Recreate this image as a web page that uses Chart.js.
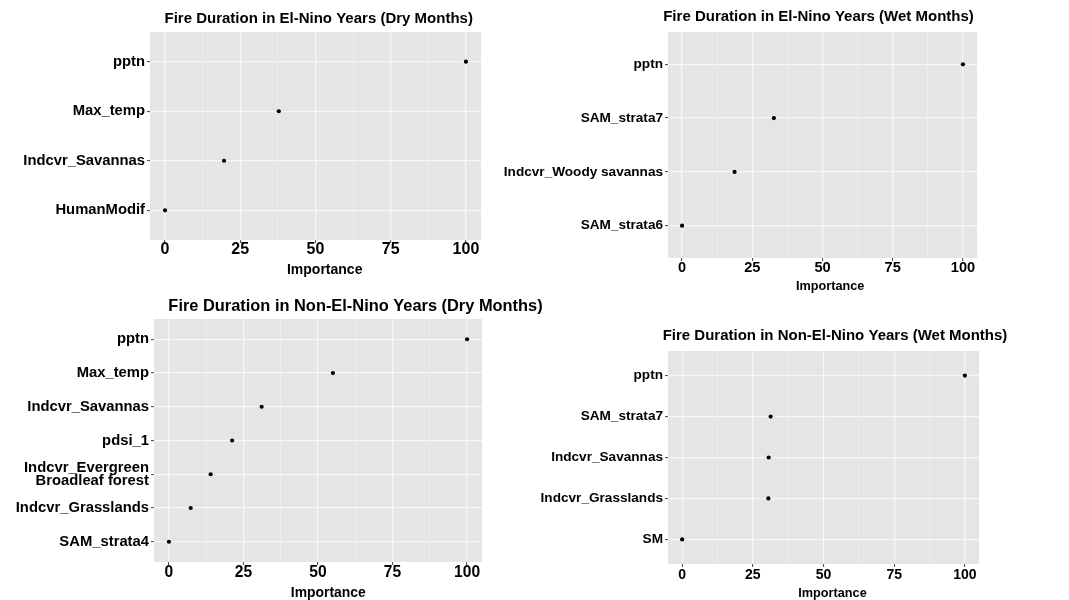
<!DOCTYPE html>
<html lang="en">
  <head>
    <meta charset="UTF-8" />
    <title>Fire Duration - Variable Importance</title>
    <script src="https://cdn.jsdelivr.net/npm/chart.js"></script>
    <style>
      * {
        margin: 0;
        padding: 0;
        box-sizing: border-box;
      }

      body {
        width: 1069px;
        height: 600px;
        background: #ffffff;
        overflow: hidden;
        position: relative;
      }

      /* every panel draws on its own full-size layer */
      canvas {
        position: absolute;
        left: 0;
        top: 0;
      }
    </style>
  </head>
  <body>
    <canvas id="elNinoDry" width="1069" height="600"></canvas>
    <canvas id="elNinoWet" width="1069" height="600"></canvas>
    <canvas id="nonElNinoDry" width="1069" height="600"></canvas>
    <canvas id="nonElNinoWet" width="1069" height="600"></canvas>

    <script>
      // ---- data ----
      var majorTicks = [0, 25, 50, 75, 100];
      var gridTicks = [0, 12.5, 25, 37.5, 50, 62.5, 75, 87.5, 100];

      var elNinoDryLabels = ["pptn", "Max_temp", "Indcvr_Savannas", "HumanModif"];
      var elNinoDryValues = [100, 37.8, 19.6, 0];

      var elNinoWetLabels = ["pptn", "SAM_strata7", "Indcvr_Woody savannas", "SAM_strata6"];
      var elNinoWetValues = [100, 32.7, 18.7, 0];

      var nonElNinoDryLabels = [
        "pptn",
        "Max_temp",
        "Indcvr_Savannas",
        "pdsi_1",
        "Indcvr_Evergreen\nBroadleaf forest",
        "Indcvr_Grasslands",
        "SAM_strata4",
      ];
      var nonElNinoDryValues = [100, 55.0, 31.1, 21.2, 14.0, 7.3, 0];

      var nonElNinoWetLabels = ["pptn", "SAM_strata7", "Indcvr_Savannas", "Indcvr_Grasslands", "SM"];
      var nonElNinoWetValues = [100, 31.3, 30.6, 30.5, 0];

      var FONT = '"Liberation Sans", Arial, Helvetica, sans-serif';

      // grey ggplot-like panel
      var panelBackground = {
        id: "panelBackground",
        beforeDraw: function (chart) {
          var a = chart.chartArea;
          var ctx = chart.ctx;
          ctx.save();
          ctx.fillStyle = "#E5E5E5";
          ctx.fillRect(a.left, a.top, a.right - a.left, a.bottom - a.top);
          ctx.restore();
        },
      };

      // chart title and axis name
      var panelText = {
        id: "panelText",
        afterDraw: function (chart, args, opts) {
          var ctx = chart.ctx;
          ctx.save();
          ctx.fillStyle = "#000";
          ctx.textAlign = "center";
          ctx.textBaseline = "middle";
          opts.items.forEach(function (t) {
            ctx.font = "bold " + t.size + "px " + FONT;
            ctx.fillText(t.text, t.x, t.y);
          });
          ctx.restore();
        },
      };

      function makePanel(id, title, labels, values, lay) {
        var n = labels.length;
        var points = values.map(function (v, i) {
          return { x: v, y: n - i };
        });

        new Chart(document.getElementById(id), {
          type: "scatter",
          data: {
            datasets: [
              {
                data: points,
                backgroundColor: "#000",
                borderWidth: 0,
                pointRadius: 2.1,
              },
            ],
          },
          plugins: [panelBackground, panelText],
          options: {
            responsive: false,
            animation: false,
            events: [],
            layout: {
              padding: { left: 0, top: lay.plot[1], right: 1069 - lay.plot[2], bottom: 0 },
            },
            plugins: {
              legend: { display: false },
              tooltip: { enabled: false },
              panelText: {
                items: [
                  { text: title, x: lay.titleX, y: lay.titleY, size: lay.font.title },
                  { text: "Importance", x: lay.nameX, y: lay.nameY, size: lay.font.name },
                ],
              },
            },
            scales: {
              x: {
                type: "linear",
                min: -5,
                max: 105,
                afterBuildTicks: function (scale) {
                  scale.ticks = gridTicks.map(function (v) {
                    return { value: v };
                  });
                },
                afterFit: function (scale) {
                  scale.height = 600 - lay.plot[3];
                },
                border: { display: false },
                grid: {
                  color: function (c) {
                    return majorTicks.indexOf(c.tick.value) >= 0 ? "#F7F7F7" : "rgba(255,255,255,0.55)";
                  },
                  lineWidth: function (c) {
                    return majorTicks.indexOf(c.tick.value) >= 0 ? 1.2 : 0.6;
                  },
                  tickColor: function (c) {
                    return majorTicks.indexOf(c.tick.value) >= 0 ? "#444" : "rgba(0,0,0,0)";
                  },
                  tickWidth: 1,
                  tickLength: 3,
                },
                ticks: {
                  autoSkip: false,
                  maxRotation: 0,
                  minRotation: 0,
                  padding: lay.tickY - lay.plot[3] - 3 - 0.6 * lay.font.x,
                  color: "#000",
                  font: { family: FONT, weight: "bold", size: lay.font.x },
                  callback: function (v) {
                    return majorTicks.indexOf(v) >= 0 ? String(v) : "";
                  },
                },
              },
              y: {
                type: "linear",
                min: 0.4,
                max: n + 0.6,
                afterBuildTicks: function (scale) {
                  scale.ticks = labels.map(function (l, i) {
                    return { value: n - i };
                  });
                },
                afterFit: function (scale) {
                  scale.width = lay.plot[0];
                },
                border: { display: false },
                grid: {
                  color: "#F7F7F7",
                  lineWidth: 1.2,
                  tickColor: "#444",
                  tickWidth: 1,
                  tickLength: 3,
                },
                ticks: {
                  padding: 2,
                  color: "#000",
                  font: { family: FONT, weight: "bold", size: lay.font.y, lineHeight: 0.9 },
                  callback: function (v) {
                    return labels[n - v].split("\n");
                  },
                },
              },
            },
          },
        });
      }

      makePanel("elNinoDry", "Fire Duration in El-Nino Years (Dry Months)", elNinoDryLabels, elNinoDryValues, {
        plot: [150, 32, 481, 240],
        titleX: 318.7, titleY: 19, tickY: 250, nameX: 324.7, nameY: 270,
        font: { title: 15, y: 14.8, x: 16, name: 14 },
      });

      makePanel("elNinoWet", "Fire Duration in El-Nino Years (Wet Months)", elNinoWetLabels, elNinoWetValues, {
        plot: [668, 32, 977, 258],
        titleX: 818.5, titleY: 17, tickY: 268, nameX: 830.2, nameY: 286,
        font: { title: 15, y: 13.6, x: 14.6, name: 12.7 },
      });

      makePanel("nonElNinoDry", "Fire Duration in Non-El-Nino Years (Dry Months)", nonElNinoDryLabels, nonElNinoDryValues, {
        plot: [154, 319, 482, 562],
        titleX: 355.5, titleY: 306, tickY: 573, nameX: 328.3, nameY: 593,
        font: { title: 16.4, y: 14.8, x: 15.6, name: 13.9 },
      });

      makePanel("nonElNinoWet", "Fire Duration in Non-El-Nino Years (Wet Months)", nonElNinoWetLabels, nonElNinoWetValues, {
        plot: [668, 351, 979, 564],
        titleX: 835, titleY: 336, tickY: 575, nameX: 832.5, nameY: 593,
        font: { title: 15, y: 13.6, x: 14, name: 12.7 },
      });
    </script>
  </body>
</html>
